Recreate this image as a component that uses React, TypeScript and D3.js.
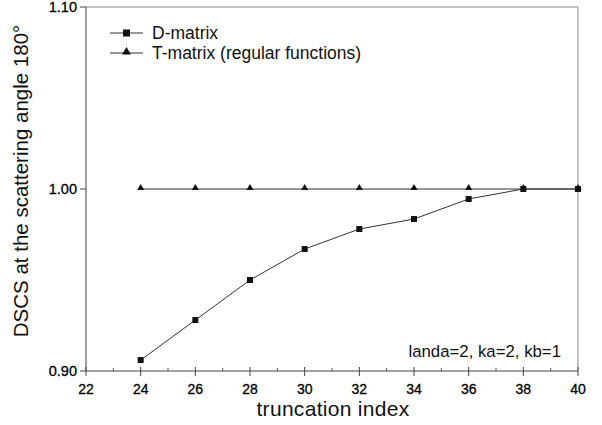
import { useEffect, useRef } from "react";
import * as d3 from "d3";

// truncation index values
const X_VALUES = [24, 26, 28, 30, 32, 34, 36, 38, 40];
// D-matrix normalised DSCS at 180°
const D_MATRIX = [0.906, 0.928, 0.95, 0.967, 0.978, 0.9835, 0.9945, 1.0, 1.0];
// T-matrix (regular functions)
const T_MATRIX = [1.0, 1.0, 1.0, 1.0, 1.0, 1.0, 1.0, 1.0, 1.0];

const X_TICKS = [22, 24, 26, 28, 30, 32, 34, 36, 38, 40];
const X_MINOR = [23, 25, 27, 29, 31, 33, 35, 37, 39];
const Y_TICKS = [0.9, 1.0, 1.1];

const FONT = "'Liberation Sans', Arial, sans-serif";

export default function App() {
  const svgRef = useRef<SVGSVGElement | null>(null);

  useEffect(() => {
    const width = 602;
    const height = 425;
    const margin = { top: 7, right: 24, bottom: 54, left: 86 };
    const innerWidth = width - margin.left - margin.right;
    const innerHeight = height - margin.top - margin.bottom;

    const svg = d3.select(svgRef.current);
    svg.selectAll("*").remove();
    svg.attr("width", width).attr("height", height);

    svg.append("rect").attr("width", width).attr("height", height).attr("fill", "#fff");

    const x = d3.scaleLinear().domain([22, 40]).range([0, innerWidth]);
    const y = d3.scaleLinear().domain([0.9, 1.1]).range([innerHeight, 0]);

    const g = svg.append("g").attr("transform", `translate(${margin.left},${margin.top})`);

    // frame (top and right, lighter)
    g.append("path")
      .attr("d", `M0,0H${innerWidth}V${innerHeight}`)
      .attr("fill", "none")
      .attr("stroke", "#8a8a8a")
      .attr("stroke-width", 1);

    // bottom axis
    const xAxis = g.append("g").attr("transform", `translate(0,${innerHeight})`);
    xAxis
      .append("line")
      .attr("x1", 0)
      .attr("x2", innerWidth)
      .attr("stroke", "#444");
    xAxis
      .selectAll(".major")
      .data(X_TICKS)
      .join("line")
      .attr("class", "major")
      .attr("x1", (d) => x(d))
      .attr("x2", (d) => x(d))
      .attr("y1", -4)
      .attr("y2", 5)
      .attr("stroke", "#444");
    xAxis
      .selectAll(".minor")
      .data(X_MINOR)
      .join("line")
      .attr("class", "minor")
      .attr("x1", (d) => x(d))
      .attr("x2", (d) => x(d))
      .attr("y1", -3)
      .attr("y2", 0)
      .attr("stroke", "#555");
    xAxis
      .selectAll("text")
      .data(X_TICKS)
      .join("text")
      .attr("x", (d) => x(d))
      .attr("y", 23)
      .attr("text-anchor", "middle")
      .attr("font-family", FONT)
      .attr("font-size", 14)
      .attr("fill", "#000")
      .attr("stroke", "#000")
      .attr("stroke-width", 0.3)
      .text((d) => d);

    // left axis
    const yAxis = g.append("g");
    yAxis
      .append("line")
      .attr("y1", 0)
      .attr("y2", innerHeight)
      .attr("stroke", "#444");
    yAxis
      .selectAll("line.tick")
      .data(Y_TICKS)
      .join("line")
      .attr("class", "tick")
      .attr("x1", -6)
      .attr("x2", 0)
      .attr("y1", (d) => y(d))
      .attr("y2", (d) => y(d))
      .attr("stroke", "#444");
    yAxis
      .selectAll("text")
      .data(Y_TICKS)
      .join("text")
      .attr("x", -9)
      .attr("y", (d) => y(d) + 5)
      .attr("text-anchor", "end")
      .attr("font-family", FONT)
      .attr("font-size", 14.5)
      .attr("fill", "#000")
      .attr("stroke", "#000")
      .attr("stroke-width", 0.3)
      .text((d) => d3.format(".2f")(d));

    // axis titles
    svg
      .append("text")
      .attr("x", 333)
      .attr("y", 416)
      .attr("text-anchor", "middle")
      .attr("font-family", FONT)
      .attr("font-size", 21)
      .attr("letter-spacing", 0.3)
      .attr("fill", "#111")
      .text("truncation index");

    svg
      .append("text")
      .attr("transform", `translate(28,181) rotate(-90)`)
      .attr("text-anchor", "middle")
      .attr("font-family", FONT)
      .attr("font-size", 20.5)
      .attr("fill", "#111")
      .text("DSCS at the scattering angle 180°");

    const line = d3
      .line<number>()
      .x((_, i) => x(X_VALUES[i]))
      .y((d) => y(d));

    const triangle = d3.symbol().type(d3.symbolTriangle).size(22);

    // T-matrix
    g.append("path")
      .datum(T_MATRIX)
      .attr("fill", "none")
      .attr("stroke", "#333")
      .attr("stroke-width", 1)
      .attr("d", line);
    g.selectAll(".tri")
      .data(T_MATRIX)
      .join("path")
      .attr("class", "tri")
      .attr("transform", (d, i) => `translate(${x(X_VALUES[i])},${y(d) - 1})`)
      .attr("d", triangle)
      .attr("fill", "#111");

    // D-matrix
    g.append("path")
      .datum(D_MATRIX)
      .attr("fill", "none")
      .attr("stroke", "#333")
      .attr("stroke-width", 1)
      .attr("d", line);
    g.selectAll(".sq")
      .data(D_MATRIX)
      .join("rect")
      .attr("class", "sq")
      .attr("x", (_, i) => x(X_VALUES[i]) - 3)
      .attr("y", (d) => y(d) - 3)
      .attr("width", 6)
      .attr("height", 6)
      .attr("fill", "#111");

    // legend
    const legend = svg.append("g").attr("transform", "translate(110,0)");
    const legendItems = [
      { label: "D-matrix", marker: "square", cy: 33 },
      { label: "T-matrix (regular functions)", marker: "triangle", cy: 53 },
    ];
    legendItems.forEach((item) => {
      legend
        .append("line")
        .attr("x1", 0)
        .attr("x2", 33)
        .attr("y1", item.cy)
        .attr("y2", item.cy)
        .attr("stroke", "#333");
      if (item.marker === "square") {
        legend
          .append("rect")
          .attr("x", 13)
          .attr("y", item.cy - 3.5)
          .attr("width", 7)
          .attr("height", 7)
          .attr("fill", "#111");
      } else {
        legend
          .append("path")
          .attr("transform", `translate(16.5,${item.cy - 1})`)
          .attr("d", d3.symbol().type(d3.symbolTriangle).size(34)())
          .attr("fill", "#111");
      }
      legend
        .append("text")
        .attr("x", 42)
        .attr("y", item.cy + 6)
        .attr("font-family", FONT)
        .attr("font-size", 17.5)
        .attr("fill", "#111")
        .text(item.label);
    });

    // annotation
    svg
      .append("text")
      .attr("x", 561)
      .attr("y", 357)
      .attr("text-anchor", "end")
      .attr("font-family", FONT)
      .attr("font-size", 16.8)
      .attr("fill", "#111")
      .text("landa=2, ka=2, kb=1");
  }, []);

  return (
    <div style={{ position: "absolute", left: 0, top: 0 }}>
      <svg ref={svgRef} style={{ display: "block" }} />
    </div>
  );
}
